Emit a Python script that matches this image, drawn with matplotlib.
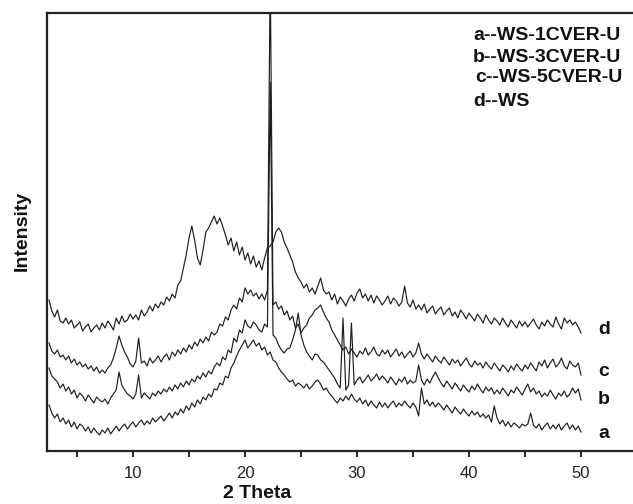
import numpy as np
import matplotlib
matplotlib.use("Agg")
import matplotlib.pyplot as plt
from matplotlib.ticker import MultipleLocator

plt.rcParams['font.family'] = ['Liberation Sans', 'DejaVu Sans']

# 2-theta grid (degrees), 0.25 step from 2.5 to 50
two_theta = np.arange(2.5, 50.0001, 0.25)

# d -- WS
int_d = [151, 140, 134, 141, 130, 128, 133, 127, 131, 123, 126, 129, 120, 124, 127, 119, 123, 126, 121, 128,
         123, 130, 126, 121, 133, 127, 135, 129, 131, 137, 132, 136, 131, 141, 135, 139, 145, 140, 147, 143,
         149, 146, 154, 150, 157, 153, 166, 170, 183, 196, 213, 225, 211, 193, 186, 201, 219, 223, 229, 235,
         227, 233, 225, 216, 206, 213, 200, 209, 196, 204, 191, 198, 187, 195, 184, 190, 181, 193, 203, 205,
         209, 219, 223, 219, 209, 203, 196, 189, 179, 173, 169, 163, 167, 159, 163, 157, 165, 173, 161, 157,
         159, 151, 157, 147, 154, 150, 145, 152, 156, 150, 158, 162, 153, 157, 150, 156, 148, 155, 151, 146,
         150, 155, 147, 153, 150, 145, 149, 165, 148, 144, 151, 142, 146, 141, 147, 138, 142, 145, 137, 141,
         144, 136, 140, 143, 135, 139, 133, 141, 137, 132, 138, 134, 130, 137, 133, 128, 136, 131, 127, 133,
         130, 126, 133, 128, 124, 131, 127, 123, 130, 125, 129, 124, 128, 132, 126, 122, 129, 125, 131, 127,
         124, 134, 127, 122, 133, 128, 131, 126, 129, 124, 118]

# c -- WS-5CVER-U
int_c = [108, 100, 97, 101, 94, 96, 91, 95, 88, 92, 86, 89, 84, 87, 82, 85, 80, 84, 78, 81,
         78, 83, 86, 93, 103, 115, 106, 99, 94, 87, 84, 90, 113, 88, 90, 85, 93, 88, 91, 95,
         89, 94, 97, 91, 99, 95, 101, 97, 103, 99, 106, 102, 109, 105, 112, 108, 114, 110, 119, 116,
         119, 127, 125, 134, 131, 141, 146, 142, 153, 149, 163, 157, 161, 155, 158, 152, 157, 151, 161, 480,
         146, 149, 142, 145, 136, 140, 131, 135, 123, 127, 118, 123, 126, 133, 136, 141, 143, 146, 139, 133,
         129, 121, 116, 111, 106, 101, 104, 97, 102, 98, 94, 100, 97, 103, 96, 99, 104, 97, 95, 101,
         97, 101, 94, 98, 102, 95, 99, 93, 97, 100, 94, 98, 108, 97, 92, 97, 93, 89, 95, 91,
         88, 94, 90, 86, 92, 88, 91, 85, 89, 93, 87, 84, 90, 86, 88, 83, 89, 85, 82, 88,
         84, 80, 86, 83, 79, 85, 81, 87, 83, 80, 86, 82, 88, 84, 80, 89, 85, 91, 83, 88,
         92, 84, 87, 93, 85, 82, 90, 86, 84, 88, 76]

# b -- WS-3CVER-U
int_b = [83, 75, 72, 69, 63, 67, 60, 64, 57, 61, 53, 58, 55, 50, 56, 52, 48, 54, 51, 49,
         52, 47, 53, 57, 61, 79, 66, 61, 57, 55, 52, 57, 76, 53, 58, 55, 52, 58, 55, 60,
         57, 62, 59, 64, 60, 66, 62, 68, 64, 70, 66, 72, 69, 75, 72, 78, 74, 80, 77, 84,
         88, 85, 94, 91, 101, 98, 113, 109, 121, 118, 131, 125, 123, 129, 126, 121, 119, 127, 124, 369,
         116, 113, 106, 101, 98, 102, 103, 111, 121, 138, 116, 106, 99, 95, 91, 97, 96, 91, 89, 85,
         81, 77, 73, 67, 63, 133, 61, 66, 128, 66, 71, 74, 68, 72, 76, 70, 73, 77, 71, 75,
         72, 68, 74, 70, 66, 72, 69, 74, 67, 71, 68, 70, 86, 71, 66, 72, 68, 74, 79, 73,
         68, 64, 70, 66, 62, 68, 64, 60, 66, 62, 59, 65, 61, 67, 62, 58, 64, 60, 63, 57,
         61, 57, 63, 59, 55, 61, 58, 64, 60, 56, 62, 67, 59, 63, 57, 60, 54, 58, 55, 61,
         56, 52, 58, 55, 60, 54, 57, 63, 58, 62, 51]

# a -- WS-1CVER-U
int_a = [46, 38, 33, 37, 29, 33, 27, 31, 24, 29, 22, 27, 25, 20, 24, 18, 23, 19, 16, 21,
         18, 23, 17, 21, 25, 20, 24, 27, 22, 26, 29, 24, 28, 31, 26, 30, 27, 33, 29, 32,
         35, 30, 34, 38, 33, 39, 36, 42, 38, 45, 41, 48, 44, 51, 47, 54, 51, 57, 54, 62,
         61, 68, 66, 75, 73, 83, 88, 95, 101, 106, 111, 103, 107, 111, 105, 108, 101, 104, 96, 99,
         91, 89, 83, 79, 76, 72, 69, 71, 65, 68, 66, 63, 67, 62, 65, 69, 71, 67, 61, 63,
         58, 55, 51, 48, 53, 50, 55, 51, 57, 52, 49, 53, 47, 51, 45, 50, 46, 43, 49, 44,
         48, 43, 47, 50, 44, 48, 45, 50, 46, 43, 48, 44, 35, 63, 47, 51, 45, 49, 44, 48,
         45, 41, 46, 42, 38, 44, 40, 37, 42, 38, 35, 40, 36, 39, 34, 37, 33, 36, 29, 45,
         33, 27, 31, 25, 29, 24, 28, 26, 23, 27, 25, 27, 38, 26, 23, 27, 21, 25, 28, 22,
         26, 22, 27, 21, 25, 28, 22, 26, 21, 25, 19]

curve_labels = ['d', 'c', 'b', 'a']
curve_label_y = [121, 79, 51, 18]
legend_lines = ['a--WS-1CVER-U', 'b--WS-3CVER-U', 'c--WS-5CVER-U', 'd--WS']

W, H = 633, 504
fig = plt.figure(figsize=(W / 100, H / 100), dpi=100)
ax = fig.add_axes([47 / W, 53 / H, (W - 47) / W, 438 / H])

line_color = '#1e1e1e'
for series in (int_d, int_c, int_b, int_a):
    ax.plot(two_theta, series, color=line_color, lw=0.85)

ax.set_xlim(2.32, 54.64)
ax.set_ylim(0, 438)

ax.spines['right'].set_visible(False)
for s in ('left', 'top', 'bottom'):
    ax.spines[s].set_linewidth(1.6)
    ax.spines[s].set_color('#222222')

ax.xaxis.set_major_locator(MultipleLocator(10))
ax.xaxis.set_minor_locator(MultipleLocator(5))
ax.set_yticks([])
ax.tick_params(axis='x', which='both', direction='out', length=4, width=1.4,
               colors='#222222', labelsize=12, pad=7, top=False)
ax.tick_params(axis='x', which='minor', labelbottom=False)

for lab, yv in zip(curve_labels, curve_label_y):
    ax.text(52.05, yv, lab, fontsize=14, fontweight='bold', ha='center', va='center',
            color='#111111')

legend_y = [36, 57, 78, 102]
legend_x = [473, 473, 475, 473]
for txt, xp, yp in zip(legend_lines, legend_x, legend_y):
    fig.text(xp / W, 1 - yp / H, txt, fontsize=14, fontweight='bold', ha='left',
             va='center', color='#111111')

fig.text(257 / W, 1.5 / H, '2 Theta', fontsize=14, fontweight='bold', ha='center',
         va='bottom', color='#111111')
fig.text(22 / W, 1 - 231 / H, 'Intensity', fontsize=14, fontweight='bold', ha='center',
         va='center', rotation=90, color='#111111')

fig.savefig('out.png', dpi=100)
